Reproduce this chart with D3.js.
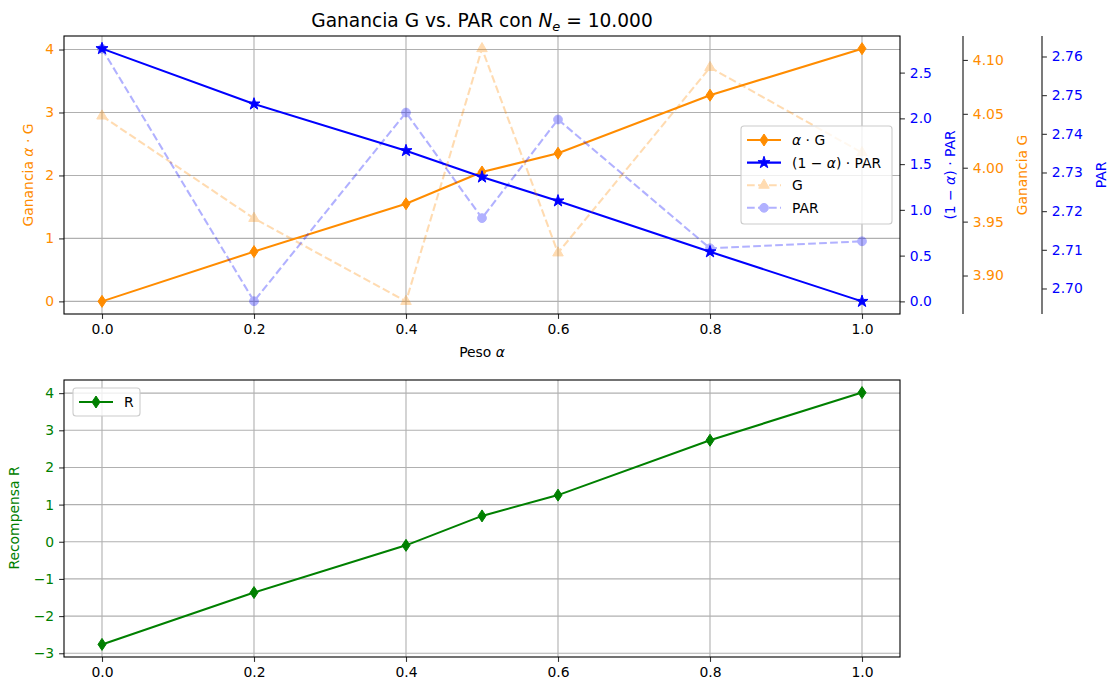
<!DOCTYPE html>
<html>
<head>
<meta charset="utf-8">
<script src="https://cdn.jsdelivr.net/npm/d3@7"></script>
<style>
  body { margin: 0; background: #fff; }
  svg { font-family: "DejaVu Sans", sans-serif; }
</style>
</head>
<body>
<div id="chart"></div>
<script>
// valores
const alphas = [0, 0.2, 0.4, 0.5, 0.6, 0.8, 1.0];
const alphaG = [0, 0.79, 1.55, 2.055, 2.353, 3.274, 4.014];
const unoMenosAlphaPAR = [2.762, 2.157, 1.647, 1.359, 1.098, 0.542, 0];
const gananciaG = [4.048, 3.953, 3.876, 4.1105, 3.921, 4.093, 4.014];
const parVals = [2.762, 2.6967, 2.7455, 2.7182, 2.7437, 2.7104, 2.7122];
const recompensa = [-2.762, -1.367, -0.097, 0.696, 1.255, 2.732, 4.014];

const xTicks = [0, 0.2, 0.4, 0.6, 0.8, 1.0];
const leftTicks = [0, 1, 2, 3, 4];
const parProdTicks = [0, 0.5, 1.0, 1.5, 2.0, 2.5];
const gTicks = [3.90, 3.95, 4.00, 4.05, 4.10];
const parTicks = [2.70, 2.71, 2.72, 2.73, 2.74, 2.75, 2.76];
const rTicks = [-3, -2, -1, 0, 1, 2, 3, 4];

const ORANGE = "#ff8c00", BLUE = "#0000ff", GREEN = "#008000";
const W = 1110, H = 686;
const boxTop = {l: 64, r: 900, t: 36, b: 314};
const boxBot = {l: 64, r: 900, t: 380, b: 657};
const fs = 13.9;

const svg = d3.select("#chart").append("svg").attr("width", W).attr("height", H);

const x1 = d3.scaleLinear().domain([-0.05, 1.05]).range([boxTop.l, boxTop.r]);
const x2 = d3.scaleLinear().domain([-0.05, 1.05]).range([boxBot.l, boxBot.r]);
const yLeft = d3.scaleLinear().domain([-0.2007, 4.2147]).range([boxTop.b, boxTop.t]);
const yProd = d3.scaleLinear().domain([-0.138, 2.90]).range([boxTop.b, boxTop.t]);
const yG = d3.scaleLinear().domain([3.8643, 4.1222]).range([boxTop.b, boxTop.t]);
const yPar = d3.scaleLinear().domain([2.6934, 2.7653]).range([boxTop.b, boxTop.t]);
const yR = d3.scaleLinear().domain([-3.101, 4.353]).range([boxBot.b, boxBot.t]);

const fmtMinus = s => s.replace("-", "\u2212");

function diamondPath(h, w) {
  return `M0,${-h/2}L${w/2},0L0,${h/2}L${-w/2},0Z`;
}

function grid(g, xs, ys, ticks, box) {
  g.selectAll(".gx").data(xTicks).enter().append("line")
    .attr("x1", d => xs(d)).attr("x2", d => xs(d))
    .attr("y1", box.t).attr("y2", box.b)
    .attr("stroke", "#b0b0b0").attr("stroke-width", 1.1);
  g.selectAll(".gy").data(ticks).enter().append("line")
    .attr("x1", box.l).attr("x2", box.r)
    .attr("y1", d => ys(d)).attr("y2", d => ys(d))
    .attr("stroke", "#b0b0b0").attr("stroke-width", 1.1);
}

function styleAxis(g, color) {
  g.select(".domain").remove();
  g.selectAll(".tick line").attr("stroke", "#333").attr("stroke-width", 1.1);
  g.selectAll(".tick text").attr("fill", color).style("font-size", fs + "px")
    .style("font-family", "DejaVu Sans");
}

function frame(box) {
  svg.append("rect").attr("x", box.l).attr("y", box.t)
    .attr("width", box.r - box.l).attr("height", box.b - box.t)
    .attr("fill", "none").attr("stroke", "#000").attr("stroke-width", 1.1);
}

// ---------- panel superior ----------
grid(svg.append("g"), x1, yLeft, leftTicks, boxTop);

svg.append("g").attr("transform", `translate(0,${boxTop.b})`)
  .call(d3.axisBottom(x1).tickValues(xTicks).tickFormat(d3.format(".1f")).tickSize(4.9).tickPadding(4.9))
  .call(g => styleAxis(g, "#000"));
svg.append("g").attr("transform", `translate(${boxTop.l},0)`)
  .call(d3.axisLeft(yLeft).tickValues(leftTicks).tickFormat(d3.format("d")).tickSize(4.9).tickPadding(4.9))
  .call(g => styleAxis(g, ORANGE));
svg.append("g").attr("transform", `translate(${boxTop.r},0)`)
  .call(d3.axisRight(yProd).tickValues(parProdTicks).tickFormat(d3.format(".1f")).tickSize(4.9).tickPadding(4.9))
  .call(g => styleAxis(g, BLUE));

const gAx = svg.append("g").attr("transform", `translate(963,0)`)
  .call(d3.axisRight(yG).tickValues(gTicks).tickFormat(d3.format(".2f")).tickSize(4.9).tickPadding(4.9))
  .call(g => styleAxis(g, ORANGE));
gAx.append("line").attr("y1", boxTop.t).attr("y2", boxTop.b).attr("stroke", "#333").attr("stroke-width", 1.3);
const pAx = svg.append("g").attr("transform", `translate(1042,0)`)
  .call(d3.axisRight(yPar).tickValues(parTicks).tickFormat(d3.format(".2f")).tickSize(4.9).tickPadding(4.9))
  .call(g => styleAxis(g, BLUE));
pAx.append("line").attr("y1", boxTop.t).attr("y2", boxTop.b).attr("stroke", "#333").attr("stroke-width", 1.3);

frame(boxTop);

const plotTop = svg.append("g");
function series(g, xs, ys, vals, color, opts) {
  const line = d3.line().x((d, i) => xs(alphas[i])).y(d => ys(d));
  const grp = g.append("g").attr("opacity", opts.opacity || 1);
  const path = grp.append("path").datum(vals).attr("d", line)
    .attr("fill", "none").attr("stroke", color).attr("stroke-width", 2.08);
  if (opts.dash) path.attr("stroke-dasharray", "7.7,3.3");
  grp.selectAll(".m").data(vals).enter().append("path")
    .attr("transform", (d, i) => `translate(${xs(alphas[i])},${ys(d)})`)
    .attr("d", opts.marker).attr("fill", color).attr("stroke", color).attr("stroke-width", 1);
  return grp;
}

const mDiamond = diamondPath(12, 8);
const mStar = d3.symbol(d3.symbolStar, 45)();
const mTri = d3.symbol(d3.symbolTriangle, 48)();
const mCirc = d3.symbol(d3.symbolCircle, 60)();

series(plotTop, x1, yLeft, alphaG, ORANGE, {marker: mDiamond});
series(plotTop, x1, yProd, unoMenosAlphaPAR, BLUE, {marker: mStar});
series(plotTop, x1, yG, gananciaG, ORANGE, {marker: mTri, dash: true, opacity: 0.3});
series(plotTop, x1, yPar, parVals, BLUE, {marker: mCirc, dash: true, opacity: 0.3});

// leyenda superior
const legTop = [
  {c: ORANGE, m: mDiamond, o: 1, dash: false, t: [["α", true], [" · G", false]]},
  {c: BLUE, m: mStar, o: 1, dash: false, t: [["(1 \u2212 ", false], ["α", true], [") · PAR", false]]},
  {c: ORANGE, m: mTri, o: 0.3, dash: true, t: [["G", false]]},
  {c: BLUE, m: mCirc, o: 0.3, dash: true, t: [["PAR", false]]}
];
function legend(items, lx, ly, lw, lh) {
  const g = svg.append("g");
  g.append("rect").attr("x", lx).attr("y", ly).attr("width", lw).attr("height", lh)
    .attr("rx", 3).attr("fill", "#fff").attr("fill-opacity", 0.8)
    .attr("stroke", "#cccccc").attr("stroke-width", 1.1);
  items.forEach((it, i) => {
    const cy = ly + 14 + i * 22.6;
    const e = g.append("g").attr("opacity", it.o);
    const ln = e.append("line").attr("x1", lx + 6).attr("x2", lx + 40).attr("y1", cy).attr("y2", cy)
      .attr("stroke", it.c).attr("stroke-width", 2.08);
    if (it.dash) ln.attr("stroke-dasharray", "7.7,3.3");
    e.append("path").attr("d", it.m).attr("transform", `translate(${lx + 23},${cy})`)
      .attr("fill", it.c).attr("stroke", it.c);
    const t = g.append("text").attr("x", lx + 51).attr("y", cy + 5).style("font-size", fs + "px")
      .attr("xml:space", "preserve").style("white-space", "pre");
    it.t.forEach(([s, it2]) => t.append("tspan").text(s).style("font-style", it2 ? "italic" : "normal"));
  });
}
legend(legTop, 741, 126, 151, 98);

// etiquetas
svg.append("text").attr("x", 482).attr("y", 357).attr("text-anchor", "middle").style("font-size", fs + "px")
  .call(t => { t.append("tspan").text("Peso "); t.append("tspan").text("α").style("font-style", "italic"); });
function vlabel(x, y, parts, color) {
  const t = svg.append("text").attr("transform", `translate(${x},${y}) rotate(-90)`)
    .attr("text-anchor", "middle").attr("fill", color).style("font-size", fs + "px")
    .style("white-space", "pre");
  parts.forEach(([s, it]) => t.append("tspan").text(s).style("font-style", it ? "italic" : "normal"));
}
vlabel(33, 175, [["Ganancia ", false], ["α", true], [" · G", false]], ORANGE);
vlabel(955, 175, [["(1 \u2212 ", false], ["α", true], [") · PAR", false]], BLUE);
vlabel(1027, 175, [["Ganancia G", false]], ORANGE);
vlabel(1106, 175, [["PAR", false]], BLUE);
vlabel(19, 518, [["Recompensa R", false]], GREEN);

// título
svg.append("text").attr("x", 482).attr("y", 27).attr("text-anchor", "middle").style("font-size", "18.6px")
  .style("white-space", "pre")
  .call(t => {
    t.append("tspan").text("Ganancia G vs. PAR con ");
    t.append("tspan").text("N").style("font-style", "italic");
    t.append("tspan").text("e").style("font-style", "italic").style("font-size", "13px").attr("dy", 3.5);
    t.append("tspan").text(" = 10.000").attr("dy", -3.5);
  });

// ---------- panel inferior ----------
grid(svg.append("g"), x2, yR, rTicks, boxBot);
svg.append("g").attr("transform", `translate(0,${boxBot.b})`)
  .call(d3.axisBottom(x2).tickValues(xTicks).tickFormat(d3.format(".1f")).tickSize(4.9).tickPadding(4.9))
  .call(g => styleAxis(g, "#000"));
svg.append("g").attr("transform", `translate(${boxBot.l},0)`)
  .call(d3.axisLeft(yR).tickValues(rTicks).tickFormat(d => fmtMinus(d3.format("d")(d))).tickSize(4.9).tickPadding(4.9))
  .call(g => styleAxis(g, GREEN));
frame(boxBot);
series(svg.append("g"), x2, yR, recompensa, GREEN, {marker: mDiamond});
legend([{c: GREEN, m: mDiamond, o: 1, dash: false, t: [["R", false]]}], 73, 388, 67, 28);
</script>
</body>
</html>
